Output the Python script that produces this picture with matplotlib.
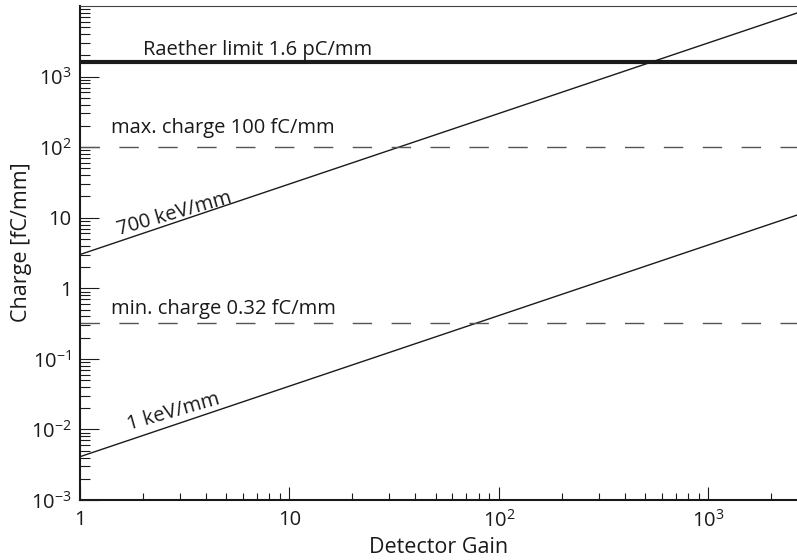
import matplotlib

matplotlib.use("Agg")
import matplotlib.pyplot as plt
import numpy as np
from matplotlib.ticker import FixedLocator, LogLocator, NullFormatter

# data
gain = [1.0, 2650.0]
charge_700kev = [3.0, 7950.0]
charge_1kev = [4.1e-3, 10.9]
raether_limit = 1600.0
max_charge = 100.0
min_charge = 0.32

x_ticks = [1, 10, 100, 1000]
x_tick_labels = ["1", "10", r"$\mathregular{10^{2}}$", r"$\mathregular{10^{3}}$"]
y_ticks = [1e-3, 1e-2, 1e-1, 1, 10, 100, 1000]
y_tick_labels = [r"$\mathregular{10^{-3}}$", r"$\mathregular{10^{-2}}$", r"$\mathregular{10^{-1}}$",
                 "1", "10", r"$\mathregular{10^{2}}$", r"$\mathregular{10^{3}}$"]

plt.rcParams["font.family"] = ["Open Sans", "DejaVu Sans"]
plt.rcParams["mathtext.fontset"] = "custom"
plt.rcParams["mathtext.rm"] = "Open Sans"
plt.rcParams["mathtext.it"] = "Open Sans:italic"
plt.rcParams["mathtext.bf"] = "Open Sans:bold"

ink = "#1a1a1a"
fs = 14.5

fig = plt.figure(figsize=(7.97, 5.6), dpi=100)
ax = fig.add_axes([0.1001, 0.1071, 0.8999, 0.8822])

ax.set_xscale("log")
ax.set_yscale("log")
ax.set_xlim(gain[0], gain[-1])
ax.set_ylim(1e-3, 1e4)

ax.plot(gain, charge_700kev, color=ink, lw=1.0)
ax.plot(gain, charge_1kev, color=ink, lw=1.0)
ax.axhline(raether_limit, color=ink, lw=3.0)
ax.axhline(max_charge, color="#555555", lw=1.0, linestyle=(0, (14, 14)))
ax.axhline(min_charge, color="#555555", lw=1.0, linestyle=(0, (14, 14)))

ax.text(2.0, 2000, "Raether limit 1.6 pC/mm", fontsize=fs, color=ink, ha="left", va="baseline")
ax.text(1.41, 160, "max. charge 100 fC/mm", fontsize=fs, color=ink, ha="left", va="baseline")
ax.text(1.41, 0.43, "min. charge 0.32 fC/mm", fontsize=fs, color=ink, ha="left", va="baseline")
ax.text(2.83, 11.3, "700 keV/mm", fontsize=fs, color=ink, ha="center", va="center", rotation=16)
ax.text(2.8, 0.0177, "1 keV/mm", fontsize=fs, color=ink, ha="center", va="center", rotation=16)

ax.xaxis.set_major_locator(FixedLocator(x_ticks))
ax.set_xticklabels(x_tick_labels)
ax.yaxis.set_major_locator(FixedLocator(y_ticks))
ax.set_yticklabels(y_tick_labels)
ax.xaxis.set_minor_locator(LogLocator(base=10, subs=np.arange(2, 10)))
ax.yaxis.set_minor_locator(LogLocator(base=10, subs=np.arange(2, 10), numticks=20))
ax.xaxis.set_minor_formatter(NullFormatter())
ax.yaxis.set_minor_formatter(NullFormatter())

ax.tick_params(axis="both", which="both", direction="in", top=False, right=False,
               colors=ink, labelsize=fs, width=0.8)
ax.tick_params(axis="x", which="major", length=9.5, pad=7)
ax.tick_params(axis="x", which="minor", length=5)
ax.tick_params(axis="y", which="major", length=14, pad=6)
ax.tick_params(axis="y", which="minor", length=7.5)

ax.spines["right"].set_visible(False)
ax.spines["left"].set_linewidth(1.5)
ax.spines["bottom"].set_linewidth(1.5)
ax.spines["left"].set_color(ink)
ax.spines["bottom"].set_color(ink)
ax.spines["top"].set_linewidth(0.8)
ax.spines["top"].set_color("#444444")

ax.set_xlabel("Detector Gain", fontsize=15.5, color=ink)
ax.xaxis.set_label_coords(0.5, -0.074)
ax.xaxis.label.set_va("top")
ax.set_ylabel("Charge [fC/mm]", fontsize=15.5, color=ink)
ax.yaxis.set_label_coords(-0.066, 0.522)

plt.savefig("out.png", dpi=100)
